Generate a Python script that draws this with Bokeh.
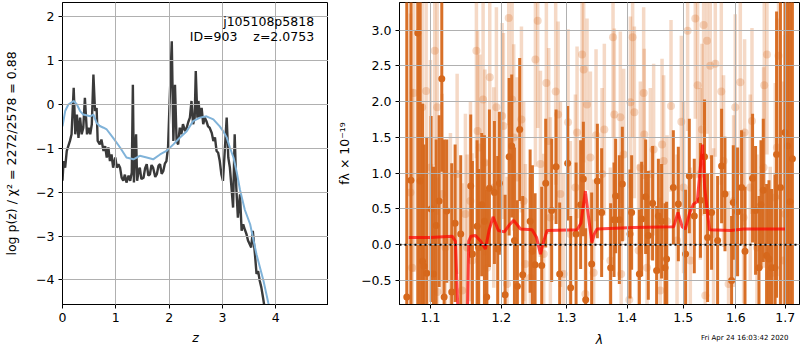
import numpy as np
from bokeh.plotting import figure
from bokeh.layouts import row
from bokeh.models import FixedTicker, Label, Range1d, Span
from bokeh.embed import file_html
from bokeh.resources import INLINE

FONT = "DejaVu Sans"

# ---------------- left panel: log p(z) ----------------
pz_z = [0.00, 0.02, 0.05, 0.08, 0.14, 0.17, 0.21, 0.24, 0.27, 0.30, 0.33, 0.36, 0.39, 0.42, 0.46, 0.49,
        0.52, 0.55, 0.58, 0.61, 0.64, 0.66, 0.70, 0.73, 0.77, 0.80, 0.83, 0.86, 0.89, 0.92, 0.95, 0.99,
        1.02, 1.05, 1.08, 1.11, 1.14, 1.17, 1.20, 1.24, 1.27, 1.30, 1.32, 1.34, 1.36, 1.38, 1.40, 1.43,
        1.45, 1.48, 1.52, 1.55, 1.58, 1.61, 1.64, 1.67, 1.70, 1.74, 1.77, 1.80, 1.83, 1.86, 1.89, 1.92,
        1.95, 1.98, 2.01, 2.05, 2.08, 2.11, 2.14, 2.17, 2.20, 2.23, 2.26, 2.30, 2.33, 2.36, 2.39, 2.42,
        2.45, 2.48, 2.50, 2.53, 2.55, 2.58, 2.61, 2.64, 2.67, 2.70, 2.73, 2.76, 2.80, 2.83, 2.86, 2.89,
        2.92, 2.95, 2.98, 3.01, 3.04, 3.08, 3.11, 3.14, 3.17, 3.20, 3.23, 3.26, 3.29, 3.33, 3.36, 3.39,
        3.42, 3.45, 3.48, 3.51, 3.54, 3.57, 3.61, 3.64, 3.67, 3.70, 3.73, 3.76, 3.79]
pz_log = [-1.74, -1.29, -1.44, -1.06, -0.83, -0.68, 0.38, -0.68, -0.23, -0.76, -0.30, -0.68, -0.53, 0.15,
          -0.68, -0.53, -0.68, -0.45, 0.68, -0.15, -0.08, -0.83, -0.91, -0.80, -1.06, -0.95, -1.21, -0.98,
          -1.29, -1.14, -1.44, -1.21, -1.44, -1.36, -1.44, -1.67, -1.74, -1.60, -1.78, -1.62, -1.74, -1.55,
          0.45, -1.78, -1.06, -0.68, -1.74, -1.50, -1.44, -1.70, -1.67, -1.45, -1.36, -1.62, -1.59, -1.38,
          -1.44, -1.65, -1.59, -1.40, -1.36, -1.58, -1.52, -1.35, -1.29, -0.98, 0.08, 1.44, -0.83, 0.45,
          -0.83, -0.91, -0.53, -0.68, -0.45, -0.61, -0.53, -0.40, -0.30, 0.08, -0.45, -0.30, 0.76, -0.30,
          0.08, -0.30, -0.08, -0.45, -0.30, -0.38, -0.50, -0.53, -0.65, -0.83, -0.75, -1.06, -1.10, -1.29,
          -1.59, -1.74, -1.14, -0.30, -1.21, -1.44, -1.89, -2.35, -0.68, -1.89, -2.58, -2.05, -2.88, -2.73,
          -2.85, -2.95, -3.10, -3.18, -3.26, -2.88, -3.41, -3.86, -3.80, -4.02, -4.17, -4.39, -4.62]

fit_z = [0.00, 0.05, 0.11, 0.21, 0.27, 0.33, 0.39, 0.52, 0.58, 0.64, 0.70, 0.77, 0.83, 0.95, 1.08, 1.20,
         1.33, 1.45, 1.58, 1.70, 1.83, 1.95, 2.08, 2.20, 2.33, 2.45, 2.58, 2.70, 2.83, 2.95, 3.02, 3.08,
         3.14, 3.21, 3.27, 3.33, 3.42, 3.52, 3.64, 3.77, 3.86, 3.90]
fit_log = [-0.50, -0.15, 0.00, 0.08, 0.00, -0.15, -0.23, -0.27, -0.23, -0.42, -0.49, -0.53, -0.57, -0.76,
           -0.98, -1.21, -1.25, -1.17, -1.21, -1.25, -1.14, -1.06, -0.91, -0.76, -0.61, -0.38, -0.30, -0.27,
           -0.34, -0.50, -0.62, -0.75, -0.98, -1.22, -1.55, -1.95, -2.40, -2.73, -3.42, -4.02, -4.52, -4.70]

z_ticks = [0, 1, 2, 3, 4]
logp_ticks = [-4, -3, -2, -1, 0, 1, 2]

# ---------------- right panel: spectrum ----------------
dark_wave = [1.0685, 1.0740, 1.0830, 1.0862, 1.0893, 1.0913, 1.0950, 1.1009, 1.1041, 1.1077, 1.1118, 1.1154,
             1.1186, 1.1222, 1.1291, 1.1338, 1.1416, 1.1557, 1.1581, 1.1648, 1.1671, 1.1714, 1.1753, 1.1786,
             1.1825, 1.1898, 1.1946, 1.1971, 1.2055, 1.2115, 1.2153, 1.2194, 1.2238, 1.2273, 1.2318, 1.2431,
             1.2466, 1.2507, 1.2609, 1.2671, 1.2764, 1.2833, 1.2890, 1.3017, 1.3065, 1.3152, 1.3226, 1.3270,
             1.3308, 1.3406, 1.3500, 1.3571, 1.3722, 1.3779, 1.3806, 1.3869, 1.3920, 1.4052, 1.4080, 1.4214,
             1.4254, 1.4324, 1.4371, 1.4447, 1.4518, 1.4549, 1.4607, 1.4669, 1.4697, 1.4819, 1.4910, 1.5044,
             1.5112, 1.5205, 1.5320, 1.5397, 1.5455, 1.5531, 1.5646, 1.5723, 1.5788, 1.5917, 1.5950, 1.6034,
             1.6113, 1.6181, 1.6332, 1.6392, 1.6461, 1.6501, 1.6548, 1.6615, 1.6664, 1.6717, 1.6787, 1.6820,
             1.6900, 1.6994, 1.7048, 1.7100, 1.7150]
dark_flux = [-0.73, 0.90, 2.96, 0.89, -0.23, -0.30, -0.40, 0.50, -0.41, 0.27, 0.61, 2.32,
             -0.73, 0.47, -0.66, 0.30, 0.15, 0.82, -0.13, 0.26, -0.04, 0.56, 0.33, -0.73,
             0.79, 0.73, -0.06, 0.86, -0.70, 1.23, 1.38, 0.06, -0.58, 1.61, -0.42, 0.33,
             -0.09, -0.28, -0.29, 0.86, 0.48, 1.09, -0.41, 1.14, -0.60, 0.15, 0.56, 0.92,
             -0.77, -0.27, 0.89, 0.45, -0.32, 0.35, 0.68, 0.35, 0.85, 0.15, 0.45, -0.41,
             0.36, 0.67, 0.13, 0.58, -0.36, 0.40, 0.33, -0.32, -0.20, 0.80, 0.57, -0.13,
             0.96, 0.40, 0.62, 1.23, 0.10, 0.45, 0.06, 1.10, 0.71, -0.50, 0.59, 0.46,
             0.80, -0.09, 0.93, 0.48, -0.32, 0.56, 0.76, -0.15, -0.20, -0.32, -0.32, 1.26,
             0.80, 1.57, 1.38, 0.60, 1.20]
dark_err = [4.5, 3.5, 4.0, 3.0, 2.2, 1.7, 1.9, 1.3, 1.5, 1.2, 1.2, 1.3,
            2.2, 1.0, 1.8, 1.1, 1.1, 1.0, 1.3, 1.2, 1.1, 1.0, 1.2, 1.5,
            1.1, 1.0, 1.3, 1.0, 1.4, 1.1, 1.0, 1.3, 1.2, 1.0, 1.1, 1.0,
            1.2, 1.0, 1.1, 0.9, 1.0, 0.8, 1.0, 0.8, 1.0, 1.0, 0.9, 0.8,
            1.0, 1.0, 0.8, 0.9, 0.9, 0.8, 0.8, 0.9, 0.8, 0.9, 0.8, 0.9,
            0.8, 0.8, 0.9, 0.8, 0.9, 0.8, 0.8, 0.9, 0.8, 0.8, 0.8, 0.9,
            0.8, 0.8, 0.8, 0.8, 0.9, 0.8, 0.9, 0.8, 0.8, 0.9, 0.8, 0.9,
            0.8, 0.9, 0.9, 0.9, 1.0, 0.9, 1.0, 1.0, 1.1, 1.1, 1.3, 2.0,
            3.0, 3.5, 3.5, 4.0, 4.0]

light_wave = [1.0733, 1.0756, 1.0777, 1.0889, 1.0942, 1.1000, 1.1058, 1.1091, 1.1095, 1.1159, 1.1204, 1.1273,
              1.1366, 1.1436, 1.1482, 1.1506, 1.1553, 1.1577, 1.1638, 1.1655, 1.1686, 1.1734, 1.1760, 1.1792,
              1.1830, 1.1888, 1.1927, 1.2011, 1.2030, 1.2085, 1.2109, 1.2159, 1.2183, 1.2234, 1.2299, 1.2333,
              1.2359, 1.2435, 1.2512, 1.2547, 1.2589, 1.2640, 1.2681, 1.2717, 1.2744, 1.2827, 1.2865, 1.2901,
              1.2953, 1.3023, 1.3060, 1.3141, 1.3168, 1.3249, 1.3275, 1.3303, 1.3330, 1.3385, 1.3439, 1.3478,
              1.3578, 1.3616, 1.3717, 1.3762, 1.3784, 1.3886, 1.3900, 1.3942, 1.4040, 1.4058, 1.4097, 1.4127,
              1.4201, 1.4231, 1.4289, 1.4300, 1.4348, 1.4407, 1.4465, 1.4584, 1.4615, 1.4644, 1.4705, 1.4777,
              1.4886, 1.4965, 1.5007, 1.5081, 1.5131, 1.5224, 1.5267, 1.5318, 1.5350, 1.5380, 1.5412, 1.5444,
              1.5506, 1.5569, 1.5602, 1.5717, 1.5761, 1.5858, 1.5956, 1.5989, 1.6088, 1.6153, 1.6173, 1.6286,
              1.6320, 1.6420, 1.6554, 1.6568, 1.6623, 1.6690, 1.6793, 1.6828, 1.6861, 1.6965, 1.7000]
light_flux = [0.73, -0.32, 2.12, 1.92, 2.15, 1.08, 2.71, 1.92, -0.66, 0.71, -0.04, 0.06,
              0.99, -0.64, 0.43, -0.04, 0.61, -0.22, 2.71, 1.59, 1.36, 2.03, 1.15, -0.32,
              2.34, 0.80, 1.92, 1.80, 1.66, -0.55, 3.17, 2.03, 1.50, 0.94, 1.75, 0.61,
              -0.27, -0.46, 2.59, 3.13, 1.13, -0.13, 2.26, 1.45, 0.38, 2.14, 1.82, 0.71,
              -0.41, 1.71, 0.15, 0.80, 1.57, 2.66, 2.45, -0.69, 1.96, 1.22, -0.39, 1.53,
              0.99, 1.61, -0.22, 2.90, 1.82, 1.78, -0.41, 1.26, -0.77, 1.99, 2.90, 1.85,
              -0.08, 1.08, 2.12, 1.54, -0.32, 0.99, 1.33, -0.64, 1.40, 1.17, 0.33, 1.94,
              0.06, 1.72, 0.80, 2.99, -0.22, 3.16, 2.23, 0.99, 1.61, 3.07, -0.71, 2.85,
              2.50, 0.15, 2.53, 2.14, 1.17, -0.55, 0.61, 1.92, 2.27, 0.38, 1.57, 0.80,
              1.73, -0.04, 1.08, 2.23, 2.66, -0.41, 0.66, 1.36, 2.64, -0.22, 0.43]
light_err = [2.5, 2.5, 2.5, 2.0, 1.8, 1.5, 1.6, 1.5, 1.6, 1.4, 1.5, 1.5,
             1.4, 1.5, 1.4, 1.3, 1.4, 1.5, 1.5, 1.4, 1.3, 1.4, 1.3, 1.5,
             1.5, 1.4, 1.4, 1.3, 1.3, 1.5, 1.5, 1.4, 1.3, 1.4, 1.3, 1.4,
             1.4, 1.4, 1.5, 1.5, 1.3, 1.4, 1.4, 1.3, 1.4, 1.3, 1.3, 1.3,
             1.4, 1.3, 1.3, 1.3, 1.2, 1.4, 1.3, 1.4, 1.2, 1.2, 1.3, 1.2,
             1.2, 1.2, 1.3, 1.4, 1.2, 1.2, 1.3, 1.2, 1.3, 1.2, 1.4, 1.2,
             1.2, 1.2, 1.2, 1.2, 1.2, 1.2, 1.2, 1.3, 1.2, 1.2, 1.2, 1.2,
             1.2, 1.2, 1.2, 1.4, 1.3, 1.4, 1.3, 1.2, 1.2, 1.4, 1.3, 1.3,
             1.3, 1.2, 1.3, 1.3, 1.2, 1.3, 1.2, 1.3, 1.3, 1.2, 1.3, 1.3,
             1.3, 1.3, 1.4, 1.4, 1.4, 1.5, 1.6, 1.8, 2.0, 2.5, 2.5]

model_wave = [1.0711, 1.1000, 1.1297, 1.1342, 1.1380, 1.1412, 1.1482, 1.1510, 1.1529, 1.1560, 1.1624, 1.1700,
              1.1768, 1.1820, 1.1879, 1.1956, 1.2045, 1.2120, 1.2183, 1.2284, 1.2461, 1.2530, 1.2589, 1.2640,
              1.2692, 1.3168, 1.3230, 1.3303, 1.3360, 1.3410, 1.3450, 1.3495, 1.4115, 1.4824, 1.4904, 1.4980,
              1.5038, 1.5120, 1.5192, 1.5260, 1.5320, 1.5360, 1.5400, 1.5490, 1.5900, 1.6150, 1.7000]
model_flux = [0.10, 0.10, 0.12, 0.05, -1.00, -3.00, -3.00, -1.00, 0.05, 0.12, 0.13, 0.05,
              -0.06, 0.20, 0.39, 0.20, 0.18, 0.28, 0.34, 0.22, 0.21, 0.10, -0.13, 0.05,
              0.20, 0.21, 0.30, 0.75, 0.35, 0.03, 0.15, 0.22, 0.24, 0.25, 0.45, 0.25,
              0.22, 0.45, 0.57, 0.60, 1.10, 1.40, 0.80, 0.21, 0.20, 0.22, 0.22]

wave_ticks = [1.1, 1.2, 1.3, 1.4, 1.5, 1.6, 1.7]
flux_ticks = [-0.5, 0.0, 0.5, 1.0, 1.5, 2.0, 2.5, 3.0]

TS = "Fri Apr 24 16:03:42 2020"

DARK = "#d6681c"
GRID = "#b0b0b0"
NB = "\u00a0"


def style(p):
    p.outline_line_color = "black"
    p.outline_line_width = 1
    p.outline_line_alpha = 1
    for ax in p.axis:
        ax.axis_line_color = "black"
        ax.major_tick_line_color = "black"
        ax.major_tick_out = 4
        ax.major_tick_in = 0
        ax.minor_tick_line_color = None
        ax.major_label_text_font = FONT
        ax.major_label_text_font_size = "12.5px"
        ax.major_label_text_color = "black"
        ax.axis_label_text_font = FONT
        ax.axis_label_text_font_size = "12.5px"
        ax.axis_label_text_font_style = "normal"
        ax.axis_label_text_color = "black"
        ax.major_label_standoff = 4
    for g in p.grid:
        g.grid_line_color = GRID
        g.grid_line_width = 1
        g.level = "guide"


def fmt_int(v):
    return ("%d" % v).replace("-", "\u2212")


def fmt_1f(v):
    return ("%.1f" % v).replace("-", "\u2212")


# left figure
p1 = figure(width=328, height=350, x_range=Range1d(0, 4.99), y_range=Range1d(-4.56, 2.325),
            output_backend="svg", toolbar_location=None,
            min_border_left=62, min_border_right=0, min_border_top=2, min_border_bottom=46)
p1.line(pz_z, pz_log, line_color="#3a3a3a", line_width=2.4)
p1.line(fit_z, fit_log, line_color="#80b3d9", line_width=2)
p1.xaxis.ticker = FixedTicker(ticks=z_ticks)
p1.yaxis.ticker = FixedTicker(ticks=logp_ticks)
p1.yaxis.major_label_overrides = {t: fmt_int(t) for t in logp_ticks}
p1.xaxis.axis_label = "z"
p1.yaxis.axis_label = "log p(z) / \u03c7\u00b2 = 2272/2578 = 0.88"
style(p1)
p1.xaxis.axis_label_text_font_style = "italic"
p1.yaxis.axis_label_standoff = 14
p1.add_layout(Label(x=4.72, y=1.89, text="j105108p5818", text_align="right", text_baseline="middle",
                    text_font=FONT, text_font_size="12.5px", text_color="black"))
p1.add_layout(Label(x=4.72, y=1.55, text="ID=903" + NB * 4 + "z=2.0753", text_align="right",
                    text_baseline="middle", text_font=FONT, text_font_size="12.5px", text_color="black"))

# right figure
p2 = figure(width=472, height=350, x_axis_type="log", x_range=Range1d(1.059, 1.730),
            y_range=Range1d(-0.835, 3.385), output_backend="svg", toolbar_location=None,
            min_border_left=71, min_border_right=1, min_border_top=2, min_border_bottom=46)
lw = np.array(light_wave); lf = np.array(light_flux); le = np.array(light_err)
dw = np.array(dark_wave); df = np.array(dark_flux); de = np.array(dark_err)
p2.segment(x0=lw, y0=lf - le, x1=lw, y1=lf + le, line_color=DARK, line_alpha=0.25, line_width=3.5)
p2.scatter(lw, lf, size=8, fill_color=DARK, fill_alpha=0.25, line_color=None)
p2.segment(x0=dw, y0=df - de, x1=dw, y1=df + de, line_color=DARK, line_alpha=0.95, line_width=3)
p2.scatter(dw, df, size=7, fill_color=DARK, line_color=None)
p2.line(model_wave, model_flux, line_color="red", line_alpha=0.7, line_width=3)
p2.add_layout(Span(location=0, dimension="width", line_color="black", line_dash="2 3", line_width=2))
p2.xaxis.ticker = FixedTicker(ticks=wave_ticks)
p2.xaxis.major_label_overrides = {t: "%.1f" % t for t in wave_ticks}
p2.yaxis.ticker = FixedTicker(ticks=flux_ticks)
p2.yaxis.major_label_overrides = {t: fmt_1f(t) for t in flux_ticks}
p2.yaxis.axis_label = "f\u03bb \u00d7 10\u207b\u00b9\u2079"
style(p2)
p2.yaxis.axis_label_standoff = 6
# x-axis label and the time stamp share the row below the tick labels
p2.add_layout(Label(x=200, y=0, x_units="screen", y_units="screen", text="\u03bb", text_align="center",
                    text_baseline="middle", text_font=FONT, text_font_size="12.5px",
                    text_font_style="italic", text_color="black"), "below")
p2.add_layout(Label(x=389, y=10, x_units="screen", y_units="screen", text=TS, text_align="right",
                    text_baseline="middle", text_font=FONT, text_font_size="7px", text_color="black"),
              "below")

layout = row(p1, p2)
open("out.html", "w").write(file_html(layout, INLINE))
